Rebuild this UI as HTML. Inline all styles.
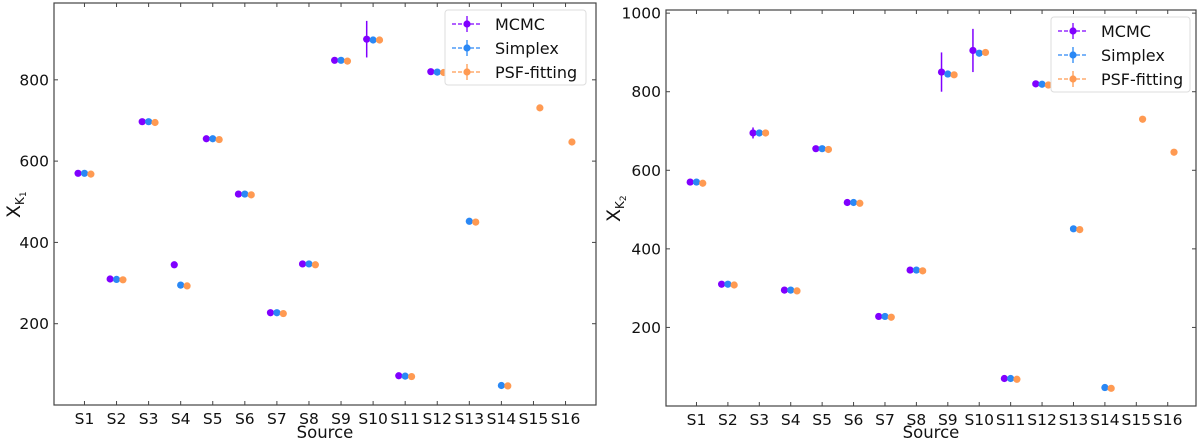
<!DOCTYPE html>
<html><head><meta charset="utf-8"><style>
body{margin:0;background:#fff;}
svg{display:block;font-family:"DejaVu Sans","Liberation Sans",sans-serif;}
</style></head><body>
<svg id="chart" width="1200" height="441" viewBox="0 0 1200 441"></svg>
<script>
const categories=["S1","S2","S3","S4","S5","S6","S7","S8","S9","S10","S11","S12","S13","S14","S15","S16"];
const seriesNames=["MCMC","Simplex","PSF-fitting"];
const seriesColors=["#8000ff","#2a88f5","#ff9a52"];
const k1Mcmc=[570,310,697,345,655,519,227,347,848,900,72,820,null,null,null,null];
const k1McmcErr=[0,0,0,0,0,0,0,0,0,45,0,0,0,0,0,0];
const k1Simplex=[570,309,697,295,655,519,227,347,848,898,71,819,452,48,null,null];
const k1Psf=[568,308,695,293,653,517,225,345,846,898,70,818,450,47,731,647];
const k2Mcmc=[570,310,695,295,655,518,228,346,850,905,70,820,null,null,null,null];
const k2McmcErr=[8,0,14,0,0,0,0,0,50,55,0,0,0,0,0,0];
const k2Simplex=[570,310,695,295,655,518,228,346,845,898,70,819,451,47,null,null];
const k2Psf=[567,308,695,293,653,516,226,344,843,900,68,817,449,45,730,646];
const k1Ticks=[200,400,600,800];
const k2Ticks=[200,400,600,800,1000];

const NS="http://www.w3.org/2000/svg";
const svg=document.getElementById('chart');
function mk(tag,attrs,parent){const e=document.createElementNS(NS,tag);for(const k in attrs)e.setAttribute(k,attrs[k]);(parent||svg).appendChild(e);return e;}
function txt(parent,x,y,size,anchor,content){
  const t=mk('text',{x:x,y:y,"font-size":size,"text-anchor":anchor,fill:'#111'},parent);
  t.textContent=content;return t;
}

function panel(cfg){
  const g=mk('g',{});
  
  
  const {x0,x1,y0,y1,xmin,xmax,ymin,ymax}=cfg;
  const sx=v=>x0+(v-xmin)/(xmax-xmin)*(x1-x0);
  const sy=v=>y1-(v-ymin)/(ymax-ymin)*(y1-y0);
  const frame=mk('rect',{x:x0,y:y0,width:x1-x0,height:y1-y0,fill:'none',stroke:'#444',"stroke-width":1.2},g);
  
  
  categories.forEach((c,i)=>{
    const x=sx(i+1);
    mk('line',{x1:x,x2:x,y1:y1,y2:y1-4,stroke:'#444'},g);
    mk('line',{x1:x,x2:x,y1:y0,y2:y0+4,stroke:'#444'},g);
    const t=txt(g,x,y1+19,15.5,'middle',c);
    
    
  });
  cfg.ticks.forEach(v=>{
    const y=sy(v);
    mk('line',{x1:x0,x2:x0+4,y1:y,y2:y,stroke:'#444'},g);
    mk('line',{x1:x1,x2:x1-4,y1:y,y2:y,stroke:'#444'},g);
    const t=txt(g,x0-5,y+5.5,15.5,'end',String(v));
    
    
  });
  const xt=txt(g,(x0+x1)/2,438,16.5,'middle','Source');
  
  
  const yt=mk('text',{transform:`translate(${cfg.ytx},${(y0+y1)/2+14}) rotate(-90)`,"font-size":19,fill:'#111'},g);
  yt.innerHTML='X<tspan font-size="12" dy="4">K</tspan><tspan font-size="9" dy="2">'+cfg.sub+'</tspan>';
  
  
  const data=[cfg.m,cfg.s,cfg.p];
  const offs=[-0.2,0,0.2];
  data.forEach((arr,si)=>{
    arr.forEach((v,i)=>{
      if(v===null)return;
      const x=sx(i+1+offs[si]), y=sy(v);
      if(si===0 && cfg.err[i]>0){
        const el=mk('line',{x1:x,x2:x,y1:sy(v+cfg.err[i]),y2:sy(v-cfg.err[i]),stroke:seriesColors[0],"stroke-width":1.5},g);
        
        
      }
      const c=mk('circle',{cx:x,cy:y,r:3.6,fill:seriesColors[si]},g);
      
      
    });
  });
  const lg=mk('g',{},g);
  
  
  mk('rect',{x:cfg.lx,y:cfg.ly,width:cfg.lw,height:75,rx:3,fill:'#fff',stroke:'#ddd'},lg);
  seriesNames.forEach((n,i)=>{
    const y=cfg.ly+14+i*24;
    const e=mk('g',{},lg);
    
    
    mk('line',{x1:cfg.lx+7,x2:cfg.lx+37,y1:y,y2:y,stroke:seriesColors[i],"stroke-dasharray":'4,2',"stroke-width":1.3},e);
    mk('line',{x1:cfg.lx+22,x2:cfg.lx+22,y1:y-8,y2:y+8,stroke:seriesColors[i],"stroke-width":1.3},e);
    mk('circle',{cx:cfg.lx+22,cy:y,r:3.6,fill:seriesColors[i]},e);
    txt(e,cfg.lx+50,y+6,16,'start',n);
  });
}
panel({name:'panel-k1',x0:54,x1:596,y0:3,y1:405,xmin:0.05,xmax:16.95,ymin:0,ymax:989,ticks:k1Ticks,m:k1Mcmc,s:k1Simplex,p:k1Psf,err:k1McmcErr,sub:'1',ytx:20,lx:445,ly:10,lw:141});
panel({name:'panel-k2',x0:666,x1:1196,y0:10,y1:406,xmin:0.03,xmax:16.9,ymin:0,ymax:1008,ticks:k2Ticks,m:k2Mcmc,s:k2Simplex,p:k2Psf,err:k2McmcErr,sub:'2',ytx:620,lx:1051,ly:17,lw:139});
</script>
</body></html>
